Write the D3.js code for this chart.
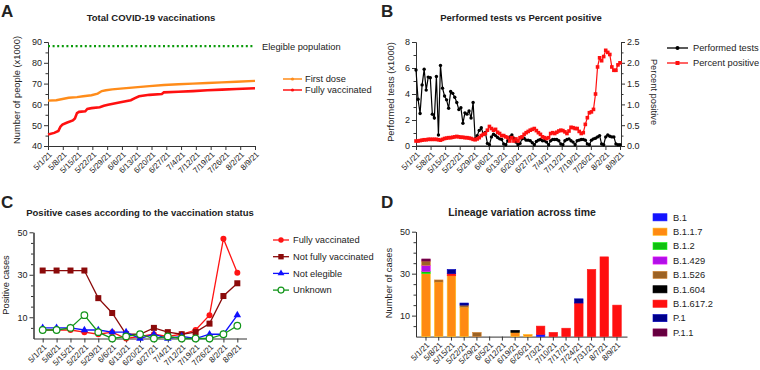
<!DOCTYPE html>
<html>
<head>
<meta charset="utf-8">
<script src="https://cdn.jsdelivr.net/npm/d3@7/dist/d3.min.js"></script>
<style>
  body { margin: 0; background: #fff; }
  svg text { font-family: "Liberation Sans", Arial, sans-serif; fill: #222; }
</style>
</head>
<body>
<svg id="chart" width="760" height="370"></svg>
<script>
/* ── Data ── */
const weekLabels = ["5/1/21", "5/8/21", "5/15/21", "5/22/21", "5/29/21", "6/6/21", "6/13/21", "6/20/21",
  "6/27/21", "7/4/21", "7/12/21", "7/19/21", "7/26/21", "8/2/21", "8/9/21"];

// A: vaccinations (x1000), day index from 5/1
const eligible = 88;
const firstDays = [0, 4, 7, 10, 14, 17, 21, 24, 26, 28, 31, 35, 42, 49, 56, 63, 70, 77, 84, 91, 100];
const firstDose = [61.8, 62.0, 62.6, 63.2, 63.5, 63.9, 64.4, 65.2, 66.4, 66.8, 67.2, 67.6, 68.2, 68.8, 69.3, 69.7, 70.0, 70.3, 70.6, 70.9, 71.3];
const fullyDays = [0, 3, 5, 6, 7, 9, 12, 13, 14, 15, 18, 19, 21, 25, 27, 29, 35, 40, 42, 44, 49, 55, 56, 63, 70, 77, 84, 91, 100];
const fullyVacc = [45.5, 46.3, 47.2, 49.3, 50.3, 51.2, 52.3, 53.2, 55.8, 56.4, 56.7, 57.8, 58.2, 58.6, 59.3, 59.8, 61.0, 62.0, 63.0, 63.9, 64.6, 65.0, 65.8, 66.1, 66.4, 66.8, 67.1, 67.4, 67.8];

// B: daily tests (x1000) and percent positive
const tests = [5.85, 3.6, 2.5, 4.7, 5.9, 4.3, 5.3, 5.25, 2.45, 2.15,
  5.35, 0.85, 6.2, 4.45, 3.85, 3.55, 2.9, 4.2, 4.05, 3.75,
  3.35, 2.8, 2.95, 1.75, 2.55, 2.45, 2.7, 2.15, 3.35, 0.55,
  0.8, 1.2, 1.4, 0.9, 1.05, 0.2, 0.1, 0.7, 0.9, 0.8,
  0.65, 0.55, 0.5, 0.15, 0.1, 0.4, 0.7, 0.85, 0.6, 0.3,
  0.1, 0.2, 0.55, 0.6, 0.45, 0.45, 0.4, 0.25, 0.1, 0.35,
  0.45, 0.5, 0.4, 0.4, 0.3, 0.1, 0.4, 0.5, 0.5, 0.5,
  0.4, 0.15, 0.1, 0.4, 0.5, 0.55, 0.4, 0.3, 0.1, 0.4,
  0.45, 0.5, 0.5, 0.45, 0.15, 0.1, 0.45, 0.55, 0.6, 0.7,
  0.8, 0.15, 0.1, 0.7, 0.85, 0.75, 0.7, 0.7, 0.15, 0.1,
  0.1];
const percentPos = [0.12, 0.12, 0.13, 0.14, 0.15, 0.15, 0.16, 0.16, 0.16, 0.16,
  0.16, 0.15, 0.14, 0.16, 0.18, 0.19, 0.2, 0.2, 0.21, 0.22,
  0.23, 0.22, 0.21, 0.21, 0.2, 0.2, 0.19, 0.18, 0.16, 0.15,
  0.17, 0.2, 0.25, 0.28, 0.3, 0.38, 0.47, 0.42, 0.38, 0.4,
  0.33, 0.3, 0.25, 0.25, 0.22, 0.2, 0.12, 0.2, 0.12, 0.17,
  0.12, 0.2, 0.22, 0.28, 0.32, 0.35, 0.38, 0.4, 0.42, 0.37,
  0.32, 0.28, 0.22, 0.2, 0.18, 0.2, 0.3, 0.32, 0.3, 0.33,
  0.36, 0.38, 0.37, 0.34, 0.3, 0.36, 0.45, 0.44, 0.42, 0.42,
  0.35, 0.3, 0.32, 0.52, 0.68, 0.8, 0.82, 0.88, 1.25, 1.9,
  2.12, 2.05, 2.15, 2.3, 2.25, 2.2, 1.9, 1.82, 1.82, 1.95,
  2.0];

// C: positive cases by vaccination status (weekly)
const casesFully = [4, 4, 4, 3, 2, 3, 0, 1, 2, 1, 2, 4, 11, 47, 31];
const casesNotFully = [32, 32, 32, 32, 19, 12, 2, 2, 5, 3, 2, 3, 7, 20, 26];
const casesNotEligible = [5, 5, 5, 4, 4, 3, 3, 0, 2, 0, 1, 0, 2, 2, 11];
const casesUnknown = [4, 4, 5, 11, 3, 0, 1, 2, 0, 1, 0, 0, 0, 2, 6];

// D: lineages per week
const lineageWeeks = ["5/1/21", "5/8/21", "5/15/21", "5/22/21", "5/29/21", "6/5/21", "6/12/21", "6/19/21",
  "6/26/21", "7/3/21", "7/10/21", "7/17/21", "7/24/21", "7/31/21", "8/7/21", "8/9/21"];
const lineageNames = ["B.1", "B.1.1.7", "B.1.2", "B.1.429", "B.1.526", "B.1.604", "B.1.617.2", "P.1", "P.1.1"];
const linB1 =     [0, 0, 0, 0, 0, 0, 0, 0, 0, 1, 0, 0, 0, 0, 0, 0];
const linB117 =   [30, 26, 29, 14, 0, 0, 0, 2, 1, 0, 0, 0, 0, 0, 0, 0];
const linB12 =    [1, 0, 0, 0, 0, 0, 0, 0, 0, 0, 0, 0, 0, 0, 0, 0];
const linB1429 =  [3, 0, 0, 0, 0, 0, 0, 0, 0, 0, 0, 0, 0, 0, 0, 0];
const linB1526 =  [2, 1, 0, 1, 2, 0, 0, 0, 0, 0, 0, 0, 0, 0, 0, 0];
const linB1604 =  [0, 0, 0, 0, 0, 0, 0, 1, 0, 0, 0, 0, 0, 0, 0, 0];
const linB16172 = [0, 0, 1, 0, 0, 0, 0, 0, 0, 4, 2, 4, 16, 32, 38, 15];
const linP1 =     [0, 0, 2, 1, 0, 0, 0, 0, 0, 0, 0, 0, 2, 0, 0, 0];
const linP11 =    [1, 0, 0, 0, 0, 0, 0, 0, 0, 0, 0, 0, 0, 0, 0, 0];
const lineageColors = ["#1414ff", "#ff8a12", "#10c010", "#b010e8", "#9c6224", "#000000", "#ff0f0f", "#00008a", "#660040"];

/* ── Helpers ── */
const svg = d3.select("#chart");
const AX = "#333";

function styleAxis(g, size) {
  g.selectAll(".domain").attr("stroke", AX).attr("stroke-width", 1);
  g.selectAll(".tick line").attr("stroke", AX).attr("stroke-width", 1);
  g.selectAll(".tick text").attr("fill", "#222").style("font-size", size || "9px");
}

function yAxis(scale, x, major, minor, fmt, right) {
  const fn = right ? d3.axisRight : d3.axisLeft;
  const gm = svg.append("g").attr("transform", `translate(${x},0)`)
    .call(fn(scale).tickValues(minor).tickSize(2.5).tickSizeOuter(0).tickFormat(""));
  styleAxis(gm);
  const g = svg.append("g").attr("transform", `translate(${x},0)`)
    .call(fn(scale).tickValues(major).tickSize(4).tickSizeOuter(0).tickFormat(fmt));
  styleAxis(g);
  g.selectAll(".tick text").attr("x", right ? 6 : -6);
}

function xAxis(scale, y, values, fmt) {
  const g = svg.append("g").attr("transform", `translate(0,${y})`)
    .call(d3.axisBottom(scale).tickValues(values).tickFormat(fmt).tickSize(4).tickSizeOuter(0));
  styleAxis(g, "8px");
  g.selectAll(".tick text")
    .attr("x", 0).attr("y", 0).attr("dy", "0.35em")
    .attr("text-anchor", "end")
    .attr("transform", "translate(2,7) rotate(-45)");
}

function letter(t, x, y) {
  svg.append("text").attr("x", x).attr("y", y).text(t)
    .style("font-size", "17px").style("font-weight", "bold").attr("fill", "#111");
}
function title(t, x, y, size) {
  svg.append("text").attr("x", x).attr("y", y).attr("text-anchor", "middle").text(t)
    .style("font-size", size).style("font-weight", "bold").attr("fill", "#111");
}
function yTitle(t, x, y, rot) {
  svg.append("text").attr("transform", `translate(${x},${y}) rotate(${rot})`)
    .attr("text-anchor", "middle").attr("dy", "0.35em").text(t).style("font-size", "9.3px");
}
function legendText(t, x, y) {
  svg.append("text").attr("x", x).attr("y", y).attr("dy", "0.35em").text(t).style("font-size", "9.3px");
}
function marker(g, shape, x, y, color, size) {
  if (shape === "circle") g.append("circle").attr("cx", x).attr("cy", y).attr("r", size).attr("fill", color);
  else if (shape === "open") g.append("circle").attr("cx", x).attr("cy", y).attr("r", size)
    .attr("fill", "#fff").attr("stroke", color).attr("stroke-width", 1.2);
  else if (shape === "square") g.append("rect").attr("x", x - size).attr("y", y - size)
    .attr("width", size * 2).attr("height", size * 2).attr("fill", color);
  else if (shape === "triangle") g.append("path")
    .attr("d", d3.symbol(d3.symbolTriangle, size * size * 2.4)()).attr("transform", `translate(${x},${y})`)
    .attr("fill", color);
}

const weekTicks = weekLabels.map((d, i) => i * 100 / 14);

/* ── Panel A ── */
letter("A", 1, 17);
title("Total COVID-19 vaccinations", 151, 21, "9.5px");
const xA = d3.scaleLinear().domain([0, 100]).range([48, 255]);
const yA = d3.scaleLinear().domain([40, 90]).range([146, 42]);
yAxis(yA, 48, d3.range(40, 91, 10), d3.range(45, 90, 10), d3.format("d"));
xAxis(xA, 146, weekTicks, (d, i) => weekLabels[i]);
yTitle("Number of people (x1000)", 17, 90, -90);

svg.append("line").attr("x1", xA(0)).attr("x2", xA(100)).attr("y1", yA(eligible)).attr("y2", yA(eligible))
  .attr("stroke", "#0a9a0a").attr("stroke-width", 2.2).attr("stroke-dasharray", "2,2.6");
legendText("Elegible population", 262, yA(eligible) + 1);

const lineA = d3.line().x(d => xA(d[0])).y(d => yA(d[1]));
svg.append("path").datum(firstDays.map((d, i) => [d, firstDose[i]])).attr("d", lineA)
  .attr("fill", "none").attr("stroke", "#ff8c1a").attr("stroke-width", 2.4);
svg.append("path").datum(fullyDays.map((d, i) => [d, fullyVacc[i]])).attr("d", lineA)
  .attr("fill", "none").attr("stroke", "#ff1010").attr("stroke-width", 2.6);

[["First dose", "#ff8c1a", 79], ["Fully vaccinated", "#ff1010", 90]].forEach(([t, c, y]) => {
  svg.append("line").attr("x1", 283).attr("x2", 302).attr("y1", y).attr("y2", y).attr("stroke", c).attr("stroke-width", 1.5);
  marker(svg, "circle", 292.5, y, c, 1.6);
  legendText(t, 305, y);
});

/* ── Panel B ── */
letter("B", 381, 17);
title("Performed tests vs Percent positive", 521, 21, "9.5px");
const xB = d3.scaleLinear().domain([0, 100]).range([416, 620]);
const yBL = d3.scaleLinear().domain([0, 8]).range([146, 42]);
const yBR = d3.scaleLinear().domain([0, 2.5]).range([146, 42]);
yAxis(yBL, 416, [0, 2, 4, 6, 8], [1, 3, 5, 7], d3.format("d"));
yAxis(yBR, 621, d3.range(0, 2.51, 0.5), d3.range(0.25, 2.5, 0.5), d3.format(".1f"), true);
svg.append("line").attr("x1", 416).attr("x2", 621).attr("y1", 146).attr("y2", 146).attr("stroke", AX);
xAxis(xB, 146, weekTicks, (d, i) => weekLabels[i]);
yTitle("Performed tests (x1000)", 391, 92, -90);
yTitle("Percent positive", 654, 92, 90);

const gTests = svg.append("g");
gTests.append("path").datum(tests).attr("d", d3.line().x((d, i) => xB(i)).y(d => yBL(d)))
  .attr("fill", "none").attr("stroke", "#000").attr("stroke-width", 1.2);
tests.forEach((d, i) => marker(gTests, "circle", xB(i), yBL(d), "#000", 1.7));
const gPct = svg.append("g");
gPct.append("path").datum(percentPos).attr("d", d3.line().x((d, i) => xB(i)).y(d => yBR(d)))
  .attr("fill", "none").attr("stroke", "#ff1010").attr("stroke-width", 1.2);
percentPos.forEach((d, i) => marker(gPct, "square", xB(i), yBR(d), "#ff1010", 1.8));

[["Performed tests", "#000", "circle", 48], ["Percent positive", "#ff1010", "square", 63]].forEach(([t, c, s, y]) => {
  svg.append("line").attr("x1", 667).attr("x2", 688).attr("y1", y).attr("y2", y).attr("stroke", c).attr("stroke-width", 1.3);
  marker(svg, s, 677.5, y, c, 2);
  legendText(t, 693, y);
});

/* ── Panel C ── */
letter("C", 1, 208);
title("Positive cases according to the vaccination status", 140, 216, "9.5px");
const xC = d3.scalePoint().domain(weekLabels).range([33.5, 246.5]).padding(0.66);
const yC = d3.scaleLinear().domain([0, 50]).range([338.5, 232.3]);
yAxis(yC, 33.5, [10, 30, 50], [5, 15, 20, 25, 35, 40, 45], d3.format("d"));
xAxis(xC, 338.5, weekLabels, d => d);
yTitle("Positive cases", 6, 285, -90);

const seriesC = [
  { name: "Fully vaccinated", values: casesFully, color: "#ff1414", shape: "circle", size: 3 },
  { name: "Not fully vaccinated", values: casesNotFully, color: "#8b0a0a", shape: "square", size: 3 },
  { name: "Not elegible", values: casesNotEligible, color: "#1010ff", shape: "triangle", size: 3.2 },
  { name: "Unknown", values: casesUnknown, color: "#12951a", shape: "open", size: 3.3 }
];
seriesC.forEach((s, k) => {
  const g = svg.append("g");
  g.append("path").datum(s.values)
    .attr("d", d3.line().x((d, i) => xC(weekLabels[i])).y(d => yC(d)))
    .attr("fill", "none").attr("stroke", s.color).attr("stroke-width", 1.3);
  s.values.forEach((d, i) => marker(g, s.shape, xC(weekLabels[i]), yC(d), s.color, s.size));
  const ly = 240 + k * 16.7;
  svg.append("line").attr("x1", 273).attr("x2", 289).attr("y1", ly).attr("y2", ly).attr("stroke", s.color).attr("stroke-width", 1.3);
  marker(svg, s.shape, 281, ly, s.color, s.size * 0.9);
  legendText(s.name, 293, ly);
});

/* ── Panel D ── */
letter("D", 381, 208);
title("Lineage variation across time", 522, 216, "10.5px");
const xD = d3.scaleBand().domain(lineageWeeks).range([416, 627]).paddingInner(0.33).paddingOuter(0.45);
const yD = d3.scaleLinear().domain([0, 50]).range([336.6, 231.7]);
yAxis(yD, 416, [10, 30, 50], [5, 15, 20, 25, 35, 40, 45], d3.format("d"));
xAxis(xD.copy().range([416, 627]), 336.6, lineageWeeks, d => d);
yTitle("Number of cases", 389, 283, -90);

const lineageSeries = [linB1, linB117, linB12, linB1429, linB1526, linB1604, linB16172, linP1, linP11];
const rowsD = lineageWeeks.map((w, i) => {
  const row = { week: w };
  lineageNames.forEach((n, k) => { row[n] = lineageSeries[k][i]; });
  return row;
});
const stackD = d3.stack().keys(lineageNames)(rowsD);
svg.append("g").selectAll("g").data(stackD).join("g")
  .attr("fill", (d, k) => lineageColors[k])
  .attr("stroke", (d, k) => d3.color(lineageColors[k]).brighter(0.9))
  .attr("stroke-width", 0.6)
  .selectAll("rect").data(d => d.filter(v => v[1] > v[0])).join("rect")
  .attr("x", d => xD(d.data.week))
  .attr("width", xD.bandwidth())
  .attr("y", d => yD(d[1]))
  .attr("height", d => yD(d[0]) - yD(d[1]));

lineageNames.forEach((n, k) => {
  const ly = 217.3 + k * 14.4;
  svg.append("rect").attr("x", 653).attr("y", ly - 3.6).attr("width", 14).attr("height", 7.2)
    .attr("fill", lineageColors[k]).attr("stroke", d3.color(lineageColors[k]).brighter(0.9)).attr("stroke-width", 0.6);
  legendText(n, 673, ly);
});
</script>
</body>
</html>
